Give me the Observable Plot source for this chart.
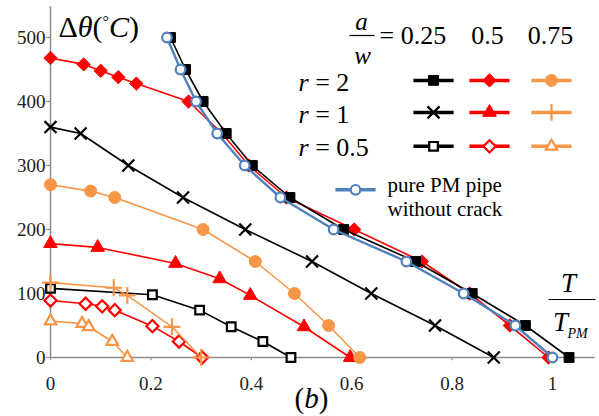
<!DOCTYPE html>
<html>
<head>
<meta charset="utf-8">
<script src="https://cdn.jsdelivr.net/npm/d3@7"></script>
<script src="https://cdn.jsdelivr.net/npm/@observablehq/plot@0.6"></script>
<style>
  html, body { margin: 0; padding: 0; background: #fff; }
  #chart svg { display: block; }
</style>
</head>
<body>
<div id="chart"></div>
<script>
// ---------------- data ----------------
const xTicks = [0, 0.2, 0.4, 0.6, 0.8, 1];
const xTickLabels = ["0", "0.2", "0.4", "0.6", "0.8", "1"];
const yTicks = [0, 100, 200, 300, 400, 500];
const yTickLabels = ["0", "100", "200", "300", "400", "500"];

// pure PM pipe without crack
const pmX = [0.232, 0.259, 0.29, 0.332, 0.387, 0.458, 0.564, 0.709, 0.823, 0.926, 1.0];
const pmY = [500, 450, 400, 350, 300, 250, 200, 150, 100, 50, 0];

// r = 2
const r2a025X = [0.239, 0.269, 0.304, 0.35, 0.402, 0.477, 0.584, 0.727, 0.84, 0.946, 1.033];
const r2a025Y = [500, 450, 400, 350, 300, 250, 200, 150, 100, 50, 0];
const r2a05X = [0, 0.066, 0.10, 0.135, 0.171, 0.275, 0.342, 0.395, 0.47, 0.605, 0.74, 0.835, 0.915, 0.992];
const r2a05Y = [468, 458, 448, 438, 428, 400, 350, 300, 250, 200, 150, 100, 50, 0];
const r2a075X = [0, 0.08, 0.128, 0.304, 0.408, 0.486, 0.554, 0.616];
const r2a075Y = [270, 260, 250, 200, 150, 100, 50, 0];

// r = 1
const r1a025X = [0, 0.06, 0.155, 0.264, 0.388, 0.521, 0.639, 0.766, 0.883];
const r1a025Y = [360, 350, 300, 250, 200, 150, 100, 50, 0];
const r1a05X = [0, 0.094, 0.249, 0.337, 0.398, 0.505, 0.597];
const r1a05Y = [178, 172, 147, 123, 97, 48, 0];
const r1a075X = [0, 0.126, 0.153, 0.242, 0.30];
const r1a075Y = [117, 109, 97, 48, 0];

// r = 0.5
const r05a025X = [0, 0.203, 0.297, 0.36, 0.423, 0.479];
const r05a025Y = [108, 98, 74, 48, 25, 0];
const r05a05X = [0, 0.07, 0.103, 0.128, 0.203, 0.256, 0.302];
const r05a05Y = [89, 84, 80, 74, 49, 25, 0];
const r05a075X = [0, 0.063, 0.076, 0.123, 0.153];
const r05a075Y = [57, 53, 48, 25, 0];

const aOverW = ["0.25", "0.5", "0.75"];
const rLabels = ["r = 2", "r = 1", "r = 0.5"];
const pmLabel = ["pure PM pipe", "without crack"];

// ---------------- styles ----------------
const BLACK = "#000000", RED = "#ff0000", ORANGE = "#f79646", BLUE = "#4f81bd", AXIS = "#8c8c8c";
const SERIF = "Liberation Serif";

// series definitions (drawing order: bottom to top)
const series = [
  {xs: r05a075X, ys: r05a075Y, color: ORANGE, symbol: "triangle", filled: false, r: 5.5, sw: 1.6, row: 2, col: 2},
  {xs: r05a05X, ys: r05a05Y, color: RED, symbol: "diamond", filled: false, r: 5.5, sw: 1.6, row: 2, col: 1},
  {xs: r05a025X, ys: r05a025Y, color: BLACK, symbol: "square", filled: false, r: 5.5, sw: 1.6, row: 2, col: 0},
  {xs: r1a075X, ys: r1a075Y, color: ORANGE, symbol: "plus", filled: false, r: 5.5, sw: 1.6, row: 1, col: 2},
  {xs: r1a05X, ys: r1a05Y, color: RED, symbol: "triangle", filled: true, r: 6.5, sw: 1.6, row: 1, col: 1},
  {xs: r1a025X, ys: r1a025Y, color: BLACK, symbol: "times", filled: false, r: 5.5, sw: 1.6, row: 1, col: 0},
  {xs: r2a075X, ys: r2a075Y, color: ORANGE, symbol: "circle", filled: true, r: 6, sw: 1.6, row: 0, col: 2},
  {xs: r2a05X, ys: r2a05Y, color: RED, symbol: "diamond", filled: true, r: 6, sw: 1.6, row: 0, col: 1},
  {xs: r2a025X, ys: r2a025Y, color: BLACK, symbol: "square", filled: true, r: 6.3, sw: 1.6, row: 0, col: 0},
  {xs: pmX, ys: pmY, color: BLUE, symbol: "circle", filled: false, r: 4.8, sw: 2.4, row: null, col: null}
];

// legend layout (data coordinates)
const legColX = [0.763, 0.8745, 0.998];
const legRowY = [433, 383, 330];
const legHalf = 0.04;
const pmLegX = 0.6076, pmLegY = 262;

function dotSpec(s) {
  const sym = s.symbol === "square" ? "square2" : s.symbol === "diamond" ? "diamond2" : s.symbol === "triangle" ? "triangle2" : s.symbol;
  const strokeOnly = (s.symbol === "plus" || s.symbol === "times");
  return {
    symbol: sym,
    r: s.r,
    fill: strokeOnly ? "none" : (s.filled ? s.color : "white"),
    stroke: s.color,
    strokeWidth: s.filled ? 1 : 2.2
  };
}

const marks = [];
// axes lines, tick marks and tick labels
marks.push(Plot.ruleX([0], {y1: 0, y2: 548, stroke: AXIS, strokeWidth: 1.5}));
marks.push(Plot.ruleY([0], {x1: 0, x2: 1.085, stroke: AXIS, strokeWidth: 1.5}));
marks.push(Plot.ruleY(yTicks, {y: d => d, x1: -0.008, x2: 0, stroke: AXIS, strokeWidth: 1.2}));
marks.push(Plot.ruleX(xTicks, {x: d => d, y1: -5, y2: 0, stroke: AXIS, strokeWidth: 1.2}));
marks.push(Plot.text(yTicks, {x: 0, y: d => d, text: (d, i) => yTickLabels[i], dx: -5, textAnchor: "end",
  fontFamily: SERIF, fontSize: 19, fill: "#222"}));
marks.push(Plot.text(xTicks, {x: d => d, y: 0, text: (d, i) => xTickLabels[i], dy: 26,
  fontFamily: SERIF, fontSize: 19, fill: "#222"}));

for (const s of series) {
  const pts = s.xs.map((x, i) => ({x, y: s.ys[i]}));
  marks.push(Plot.line(pts, {x: "x", y: "y", stroke: s.color, strokeWidth: s.sw}));
  marks.push(Plot.dot(pts, {x: "x", y: "y", ...dotSpec(s)}));
}

// legend entries
for (const s of series) {
  const cx = s.row === null ? pmLegX : legColX[s.col];
  const cy = s.row === null ? pmLegY : legRowY[s.row];
  marks.push(Plot.link([0], {x1: cx - legHalf, x2: cx + legHalf, y1: cy, y2: cy, stroke: s.color, strokeWidth: 3.5}));
  marks.push(Plot.dot([0], {x: cx, y: cy, ...dotSpec(s)}));
}

// annotations (pixel offsets from top-left of frame: left=50, top=5)
const T = (text, px, py, opts = {}) => Plot.text([text], {
  text: d => d, frameAnchor: "top-left", dx: px - 50, dy: py - 5,
  fontFamily: SERIF, fontSize: 25, fill: "#000", lineAnchor: "middle", textAnchor: "start", ...opts
});

marks.push(T("Δθ(°C)", 58, 27, {fontSize: 30, className: "lbl-theta"}));
marks.push(T("a", 361, 21, {textAnchor: "middle", fontStyle: "italic"}));
marks.push(T("w", 362, 55, {textAnchor: "middle", fontStyle: "italic"}));
marks.push(Plot.link([0], {x1: (349 - 50) / 502, x2: (374 - 50) / 502, y1: (357 - 35) / 0.64, y2: (357 - 35) / 0.64, stroke: "#000", strokeWidth: 1.2}));
marks.push(T("= " + aOverW[0], 379, 35, {fontSize: 26}));
marks.push(T(aOverW[1], 487, 35, {textAnchor: "middle", fontSize: 26}));
marks.push(T(aOverW[2], 550, 35, {textAnchor: "middle", fontSize: 26}));
marks.push(T(rLabels[0], 298, 82, {className: "lbl-r", fontSize: 26}));
marks.push(T(rLabels[1], 298, 114, {className: "lbl-r", fontSize: 26}));
marks.push(T(rLabels[2], 298, 147, {className: "lbl-r", fontSize: 26}));
marks.push(T(pmLabel[0], 387, 185, {fontSize: 21}));
marks.push(T(pmLabel[1], 387, 209, {fontSize: 21}));
marks.push(T("T", 568, 283, {textAnchor: "middle", fontStyle: "italic", fontSize: 27}));
marks.push(Plot.link([0], {x1: (548 - 50) / 502, x2: (595 - 50) / 502, y1: (357 - 299) / 0.64, y2: (357 - 299) / 0.64, stroke: "#000", strokeWidth: 1.2}));
marks.push(T("T", 560, 322, {textAnchor: "middle", fontStyle: "italic", fontSize: 27}));
marks.push(T("PM", 567, 333, {fontStyle: "italic", fontSize: 14}));
marks.push(T("(b)", 311, 398, {textAnchor: "middle", fontSize: 29, className: "lbl-b"}));

const chart = Plot.plot({
  width: 599,
  height: 416,
  marginLeft: 50,
  marginRight: 599 - (50 + 1.08 * 502),
  marginTop: 5,
  marginBottom: 59,
  x: {domain: [0, 1.08], axis: null},
  y: {domain: [0, (357 - 5) / 0.64], axis: null},
  style: {background: "white", overflow: "visible"},
  marks
});

// typographic refinement: italic pieces inside labels
const sel = d3.select(chart);
sel.selectAll(".lbl-theta text").each(function () {
  const t = d3.select(this); t.text("");
  t.append("tspan").text("Δ");
  t.append("tspan").attr("font-style", "italic").text("θ");
  t.append("tspan").text("(");
  t.append("tspan").attr("font-size", 16).attr("dy", -10).text("°");
  t.append("tspan").attr("font-style", "italic").attr("dy", 10).text("C");
  t.append("tspan").text(")");
});
sel.selectAll(".lbl-r text").each(function () {
  const t = d3.select(this); const s = t.text(); t.text("");
  t.append("tspan").attr("font-style", "italic").text("r");
  t.append("tspan").text(s.slice(1));
});
sel.selectAll(".lbl-b text").each(function () {
  const t = d3.select(this); t.text("");
  t.append("tspan").text("(");
  t.append("tspan").attr("font-style", "italic").text("b");
  t.append("tspan").text(")");
});

document.getElementById("chart").appendChild(chart);
</script>
</body>
</html>
